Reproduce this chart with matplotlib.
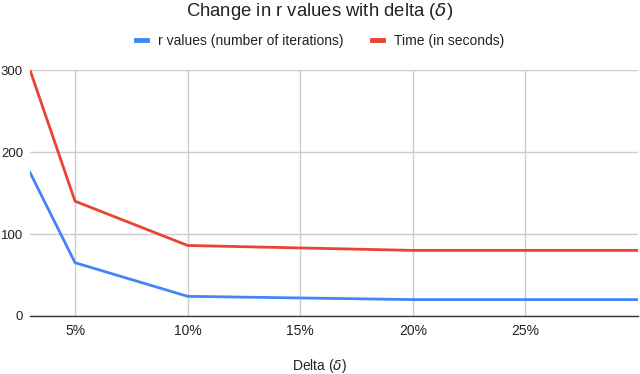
import matplotlib
matplotlib.use("Agg")
import matplotlib.pyplot as plt
from matplotlib.lines import Line2D

plt.rcParams['font.family'] = ['Liberation Sans', 'DejaVu Sans']

delta = [3, 5, 10, 20, 30]
r_values = [175, 65, 24, 20, 20]
time_sec = [300, 140, 86, 80, 80]
xticks = [5, 10, 15, 20, 25]
xticklabels = ["5%", "10%", "15%", "20%", "25%"]
yticks = [0, 100, 200, 300]

fig = plt.figure(figsize=(6.4, 3.74), dpi=100)
ax = fig.add_axes([30/640, 1-316/374, 608/640, 246/374])

blue = "#4285F4"
red = "#EA4335"
ax.plot(delta, r_values, color=blue, lw=2, label="r values (number of iterations)", solid_joinstyle='round')
ax.plot(delta, time_sec, color=red, lw=2, label="Time (in seconds)", solid_joinstyle='round')

ax.set_xlim(3, 30)
ax.set_ylim(0, 300)
ax.set_xticks(xticks)
ax.set_xticklabels(xticklabels)
ax.set_yticks(yticks)
ax.grid(True, color="#cccccc", lw=1)
ax.set_axisbelow(True)
for s in ["top", "right", "left"]:
    ax.spines[s].set_visible(False)
ax.spines["bottom"].set_color("#333333")
ax.spines["bottom"].set_linewidth(1)
ax.tick_params(length=0, labelsize=10, colors="#222222", pad=6)
ax.tick_params(axis='y', pad=5, labelsize=9.5)

fig.text(0.5, 1-11/374, "Change in r values with delta ($\\delta$)", ha="center", va="center",
         fontsize=13.3, color="#222222")
fig.text(0.5, 1-366/374, "Delta ($\\delta$)", ha="center", va="center", fontsize=10, color="#222222")

handles = [Line2D([0], [0], color=blue, lw=3.5), Line2D([0], [0], color=red, lw=3.5)]
fig.legend(handles, ["r values (number of iterations)", "Time (in seconds)"],
           loc="center", bbox_to_anchor=(0.5, 1-41/374), ncol=2, frameon=False,
           fontsize=10, handlelength=0.8, handletextpad=0.8, columnspacing=2.0,
           labelcolor="#222222")

fig.savefig("out.png", dpi=100)
